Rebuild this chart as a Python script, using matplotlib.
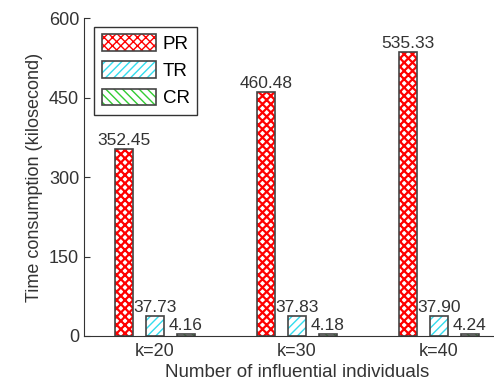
import matplotlib.pyplot as plt
from matplotlib.legend_handler import HandlerTuple
import numpy as np

plt.rcParams['font.family'] = ['Liberation Sans', 'DejaVu Sans']

groups = ["k=20", "k=30", "k=40"]
methods = ["PR", "TR", "CR"]
pr = [352.45, 460.48, 535.33]
tr = [37.73, 37.83, 37.90]
cr = [4.16, 4.18, 4.24]

series = [pr, tr, cr]
hatch_colors = ['red', '#33ddee', '#33cc33']
hatches = ['xxxx', '////', '\\\\\\\\']
hatch_widths = [1.6, 1.0, 1.0]
txt = '#333333'
outline = '#444444'

fig = plt.figure(figsize=(4.94, 3.91), dpi=100)
ax = fig.add_axes([0.17, 0.1407, 0.862, 0.813])

x = np.arange(1, len(groups) + 1)
width = 0.127
offsets = [-0.218, 0.0, 0.218]

for vals, name, hc, hp, hw, off in zip(series, methods, hatch_colors, hatches,
                                        hatch_widths, offsets):
    plt.rcParams['hatch.linewidth'] = hw
    bars = ax.bar(x + off, vals, width, label=name, color='white',
                  edgecolor=hc, hatch=hp, linewidth=0)
    # dark outline drawn separately so the hatch keeps its colour
    ax.bar(x + off, vals, width, color='none', edgecolor=outline, linewidth=1.2)
    for b, v in zip(bars, vals):
        ax.text(b.get_x() + b.get_width() / 2, v + 2, f"{v:.2f}",
                ha='center', va='bottom', fontsize=12.5, color=txt)

ax.set_xlim(0.5, 3.5)
ax.set_ylim(0, 600)
ax.set_yticks([0, 150, 300, 450, 600])
ax.set_xticks(x)
ax.set_xticklabels(groups)
ax.tick_params(axis='y', direction='in', length=4, labelsize=13, colors=txt)
ax.tick_params(axis='x', length=0, labelsize=13, colors=txt, pad=5)
ax.spines['top'].set_visible(False)
ax.spines['right'].set_visible(False)
for s in ['left', 'bottom']:
    ax.spines[s].set_color('#333333')

ax.set_ylabel("Time consumption (kilosecond)", fontsize=13, color=txt, labelpad=4)
ax.set_xlabel("Number of influential individuals", fontsize=13.5, color=txt, labelpad=3)

handles = []
for hc, hp, hw in zip(hatch_colors, hatches, hatch_widths):
    plt.rcParams['hatch.linewidth'] = hw
    fill = plt.Rectangle((0, 0), 1, 1, facecolor='white', edgecolor=hc, hatch=hp, linewidth=0)
    edge = plt.Rectangle((0, 0), 1, 1, facecolor='none', edgecolor=outline, linewidth=1.2)
    handles.append((fill, edge))
leg = ax.legend(handles, methods, loc='upper left', bbox_to_anchor=(0.015, 0.985),
                handler_map={tuple: HandlerTuple(ndivide=1, pad=0)},
                fontsize=13.5, handlelength=2.9, handleheight=1.0, fancybox=False,
                framealpha=1, edgecolor='#333333', borderpad=0.4, labelspacing=0.45,
                handletextpad=0.35, borderaxespad=0.2)
leg.get_frame().set_linewidth(1.0)

fig.savefig("out.png", dpi=100)
